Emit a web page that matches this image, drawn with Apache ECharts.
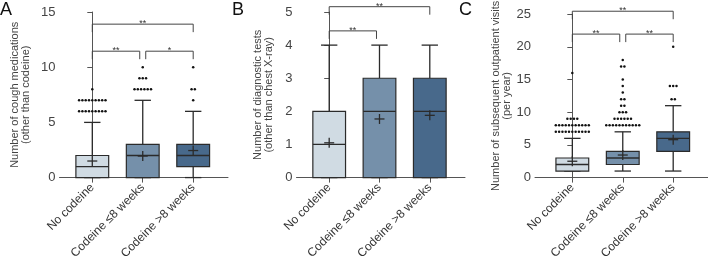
<!DOCTYPE html>
<html>
<head>
<meta charset="utf-8">
<script src="https://cdn.jsdelivr.net/npm/echarts@6/dist/echarts.min.js"></script>
<style>
html, body { margin: 0; padding: 0; background: #fff; }
#chart { width: 708px; height: 262px; }
</style>
</head>
<body>
<div id="chart"></div>
<script>
var categories = ['No codeine', 'Codeine ≤8 weeks', 'Codeine >8 weeks'];

// A - cough medications (other than codeine)
var coughLow = [0, 0, 0];
var coughQ1 = [0, 0, 1];
var coughMedian = [1, 2, 2];
var coughQ3 = [2, 3, 3];
var coughHigh = [5, 7, 6];
var coughMean = [1.5, 1.95, 2.45];
// [group, value, number of patients]
var coughOutliers = [[0, 6, 9], [0, 7, 9], [0, 8, 1], [1, 8, 6], [1, 9, 3], [1, 10, 1], [2, 7, 1], [2, 8, 2], [2, 10, 1]];
// [from group, to group, height, label]
var coughSig = [[0, 2, 13.9, '**'], [0, 1, 11.45, '**'], [1, 2, 11.45, '*']];

// B - diagnostic tests (other than chest X-ray)
var testLow = [0, 0, 0];
var testQ1 = [0, 0, 0];
var testMedian = [1, 2, 2];
var testQ3 = [2, 3, 3];
var testHigh = [4, 4, 4];
var testMean = [1.05, 1.77, 1.88];
var testOutliers = [];
var testSig = [[0, 2, 5.16, '**'], [0, 1, 4.43, '**']];

// C - subsequent outpatient visits (per year)
var visitLow = [1, 1, 1];
var visitQ1 = [1, 2, 4];
var visitMedian = [2, 3, 6];
var visitQ3 = [3, 4, 7];
var visitHigh = [6, 7, 11];
var visitMean = [2.5, 3.45, 5.8];
var visitOutliers = [[0, 7, 11], [0, 8, 11], [0, 9, 4], [0, 16, 1],
  [1, 8, 11], [1, 9, 6], [1, 10, 3], [1, 11, 2], [1, 12, 2], [1, 13, 1], [1, 14, 1], [1, 15, 1], [1, 17, 2], [1, 18, 1],
  [2, 12, 2], [2, 14, 3], [2, 20, 1]];
var visitSig = [[0, 2, 25.45, '**'], [0, 1, 21.95, '**'], [1, 2, 21.95, '**']];

var boxColors = ['#d0dbe3', '#7590aa', '#48698b'];
var ink = '#2b2b2b';
var axisColor = '#555';
var BOX_W = 0.65;

var myChart = echarts.init(document.getElementById('chart'));

function boxRows(low, q1, med, q3, high, mean) {
  return categories.map(function (c, i) {
    return [i, low[i], q1[i], med[i], q3[i], high[i], mean[i]];
  });
}

function renderBox(params, api) {
  var i = api.value(0);
  var x = api.coord([i, 0])[0];
  var half = api.size([BOX_W, 0])[0] / 2;
  var cap = half / 2;
  var yLow = api.coord([i, api.value(1)])[1];
  var yQ1 = api.coord([i, api.value(2)])[1];
  var yMed = api.coord([i, api.value(3)])[1];
  var yQ3 = api.coord([i, api.value(4)])[1];
  var yHigh = api.coord([i, api.value(5)])[1];
  var yMean = api.coord([i, api.value(6)])[1];
  var ls = { stroke: ink, lineWidth: 1.3 };
  return {
    type: 'group',
    children: [
      { type: 'line', shape: { x1: x, y1: yQ3, x2: x, y2: yHigh }, style: ls },
      { type: 'line', shape: { x1: x - cap, y1: yHigh, x2: x + cap, y2: yHigh }, style: ls },
      { type: 'line', shape: { x1: x, y1: yQ1, x2: x, y2: yLow }, style: ls },
      { type: 'line', shape: { x1: x - cap, y1: yLow, x2: x + cap, y2: yLow }, style: ls },
      { type: 'rect', shape: { x: x - half, y: yQ3, width: half * 2, height: yQ1 - yQ3 },
        style: { fill: boxColors[i], stroke: ink, lineWidth: 1.2 } },
      { type: 'line', shape: { x1: x - half, y1: yMed, x2: x + half, y2: yMed }, style: ls },
      { type: 'line', shape: { x1: x - 5, y1: yMean, x2: x + 5, y2: yMean }, style: ls },
      { type: 'line', shape: { x1: x, y1: yMean - 5, x2: x, y2: yMean + 5 }, style: ls }
    ]
  };
}

function renderDots(params, api) {
  var p = api.coord([api.value(0), api.value(1)]);
  var n = api.value(2);
  var kids = [];
  for (var k = 0; k < n; k++) {
    kids.push({ type: 'circle', shape: { cx: p[0] + (k - (n - 1) / 2) * 3.3, cy: p[1], r: 1.25 }, style: { fill: '#111' } });
  }
  return { type: 'group', children: kids };
}

function renderSig(params, api) {
  var a = api.value(0), b = api.value(1);
  var y = api.coord([a, api.value(2)])[1];
  var x1 = api.coord([a, 0])[0] + (a === 1 ? 3 : 0);
  var x2 = api.coord([b, 0])[0] - (b === 1 ? 3 : 0);
  return {
    type: 'group',
    children: [
      { type: 'polyline', shape: { points: [[x1, y + 8], [x1, y], [x2, y], [x2, y + 8]] }, style: { stroke: '#444', lineWidth: 1, fill: null } },
      { type: 'text', style: { x: (x1 + x2) / 2, y: y - 0.5, text: api.value(3), fill: '#333', fontSize: 9, align: 'center', verticalAlign: 'middle' } }
    ]
  };
}

var panels = [
  { left: 59.5, width: 168.5, xMin: -0.65, xMax: 2.69, yMax: 15, yStep: 5, gap: 28,
    name: 'Number of cough medications\n(other than codeine)',
    box: boxRows(coughLow, coughQ1, coughMedian, coughQ3, coughHigh, coughMean), dots: coughOutliers, sig: coughSig },
  { left: 296.5, width: 168.5, xMin: -0.65, xMax: 2.7, yMax: 5, yStep: 1, gap: 22,
    name: 'Number of diagnostic tests\n(other than chest X-ray)',
    box: boxRows(testLow, testQ1, testMedian, testQ3, testHigh, testMean), dots: testOutliers, sig: testSig },
  { left: 535, width: 173, xMin: -0.74, xMax: 2.69, yMax: 25, yStep: 5, gap: 23,
    name: 'Number of subsequent outpatient visits\n(per year)',
    box: boxRows(visitLow, visitQ1, visitMedian, visitQ3, visitHigh, visitMean), dots: visitOutliers, sig: visitSig }
];

var grids = [], xAxes = [], yAxes = [], series = [];
panels.forEach(function (p, k) {
  grids.push({ left: p.left, top: 12, width: p.width, height: 168 });
  xAxes.push({
    gridIndex: k, type: 'value', min: p.xMin, max: p.xMax,
    splitLine: { show: false },
    axisLine: { show: true, onZero: false, lineStyle: { color: axisColor, width: 1 } },
    axisTick: { show: true, customValues: [0, 1, 2], length: 5, lineStyle: { color: axisColor } },
    axisLabel: { customValues: [0, 1, 2], rotate: 45, margin: 8, fontSize: 12, color: '#333',
      formatter: function (v) { return categories[Math.round(v)]; } }
  });
  yAxes.push({
    gridIndex: k, type: 'value', min: 0, max: p.yMax, interval: p.yStep,
    splitLine: { show: false },
    axisLine: { show: true, lineStyle: { color: axisColor, width: 1 } },
    axisTick: { show: true, length: 5, lineStyle: { color: axisColor } },
    axisLabel: { fontSize: 13, color: '#444', margin: 4 },
    name: p.name, nameLocation: 'middle', nameGap: p.gap,
    nameTextStyle: { fontSize: 11, color: '#444', lineHeight: 11 }
  });
  series.push({ type: 'custom', xAxisIndex: k, yAxisIndex: k, data: p.box, renderItem: renderBox, z: 3 });
  series.push({ type: 'custom', xAxisIndex: k, yAxisIndex: k, data: p.dots, renderItem: renderDots, z: 4 });
  series.push({ type: 'custom', xAxisIndex: k, yAxisIndex: k, data: p.sig, renderItem: renderSig, z: 4, clip: false });
});

var option = {
  animation: false,
  textStyle: { fontFamily: 'Liberation Sans, Arial, sans-serif' },
  title: [
    { text: 'A', left: 0, top: 1, padding: 0, textStyle: { fontSize: 18, fontWeight: 'normal', color: '#111' } },
    { text: 'B', left: 232, top: 1, padding: 0, textStyle: { fontSize: 18, fontWeight: 'normal', color: '#111' } },
    { text: 'C', left: 459, top: 1, padding: 0, textStyle: { fontSize: 18, fontWeight: 'normal', color: '#111' } }
  ],
  grid: grids,
  xAxis: xAxes,
  yAxis: yAxes,
  series: series
};
myChart.setOption(option);
window.addEventListener('resize', function () {
  myChart.resize();
});
</script>
</body>
</html>
